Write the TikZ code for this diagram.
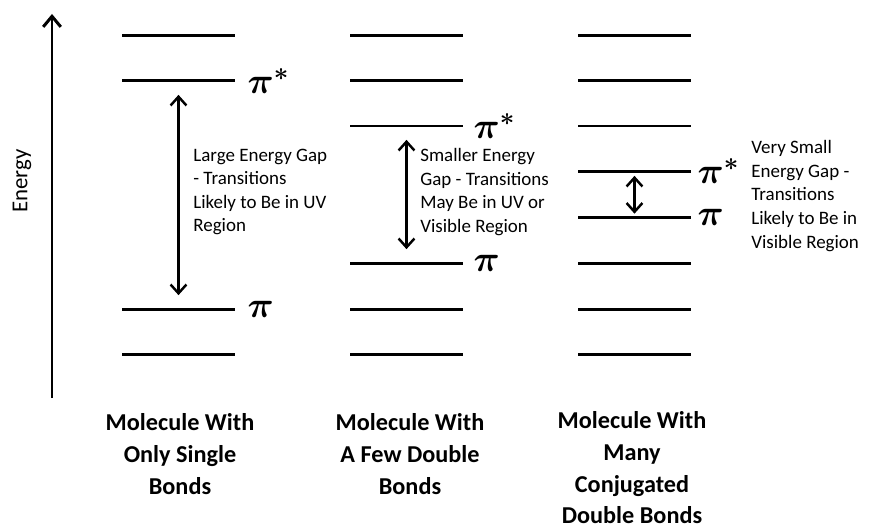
\documentclass[tikz,border=0pt]{standalone}
\usepackage{amsmath}
\usepackage{fontspec}
\setmainfont{Carlito}
\usepackage{tikz}
\usetikzlibrary{arrows.meta,positioning}

\begin{document}
\begin{tikzpicture}[x=0.02cm, y=-0.02cm,
  lvl/.style={rectangle, fill=black, inner sep=0pt,
              minimum width=2.26cm, minimum height=0.06cm},
  pilbl/.style={inner sep=0pt, font=\fontsize{20}{22}\selectfont},
  gaptxt/.style={inner sep=0pt, align=left, anchor=west,
                 font=\fontsize{10.8}{13.4}\selectfont},
  moltxt/.style={inner sep=0pt, align=center,
                 font=\fontsize{13.8}{18}\selectfont\bfseries},
  gaparr/.style={{Straight Barb[length=5pt,width=9pt]}-{Straight Barb[length=5pt,width=9pt]},
                 line width=1.4pt},
  enaxis/.style={-{Straight Barb[length=6pt,width=10pt]}, line width=1.7pt}
]
\useasboundingbox (0,0) rectangle (872,527);

% Energy axis
\coordinate (ebot) at (52,398);
\coordinate (etop) at (52,14);
\draw[enaxis] (ebot) -- (etop);
\node[rotate=90, font=\fontsize{13}{15}\selectfont] (elbl) at (22,181) {Energy};

% Only single bonds
\node[lvl] (sb1) at (178.5, 36) {};
\node[lvl] (sb2) at (178.5, 81) {};
\node[lvl] (sb3) at (178.5,309) {};
\node[lvl] (sb4) at (178.5,354) {};

% A few double bonds
\node[lvl] (fd1) at (406.5, 36) {};
\node[lvl] (fd2) at (406.5, 81) {};
\node[lvl] (fd3) at (406.5,126) {};
\node[lvl] (fd4) at (406.5,263) {};
\node[lvl] (fd5) at (406.5,309) {};
\node[lvl] (fd6) at (406.5,354) {};

% Many conjugated double bonds
\node[lvl] (cj1) at (634.5, 36) {};
\node[lvl] (cj2) at (634.5, 81) {};
\node[lvl] (cj3) at (634.5,126) {};
\node[lvl] (cj4) at (634.5,171) {};
\node[lvl] (cj5) at (634.5,217) {};
\node[lvl] (cj6) at (634.5,263) {};
\node[lvl] (cj7) at (634.5,309) {};
\node[lvl] (cj8) at (634.5,354) {};

% Pi labels
\node[pilbl, right=0.24cm of sb2] (sbpis) {$\boldsymbol{\pi^{*}}$};
\node[pilbl, right=0.24cm of sb3] (sbpi)  {$\boldsymbol{\pi}$};
\node[pilbl, right=0.2cm of fd3]  (fdpis) {$\boldsymbol{\pi^{*}}$};
\node[pilbl, right=0.2cm of fd4]  (fdpi)  {$\boldsymbol{\pi}$};
\node[pilbl, right=0.12cm of cj4] (cjpis) {$\boldsymbol{\pi^{*}}$};
\node[pilbl, right=0.12cm of cj5] (cjpi)  {$\boldsymbol{\pi}$};

% Gap arrows
\draw[gaparr, shorten <=0.24cm, shorten >=0.24cm] (sb2) -- (sb3);
\draw[gaparr, shorten <=0.24cm, shorten >=0.24cm] (fd3) -- (fd4);
\draw[gaparr, shorten <=0.06cm, shorten >=0.03cm] (cj4) -- (cj5);

% Gap descriptions
\node[gaptxt] (sbtxt) at (193,192) {Large Energy Gap\\- Transitions\\Likely to Be in UV\\Region};
\node[gaptxt] (fdtxt) at (420,192) {Smaller Energy\\Gap - Transitions\\May Be in UV or\\Visible Region};
\node[gaptxt] (cjtxt) at (751,196) {Very Small\\Energy Gap -\\Transitions\\Likely to Be in\\Visible Region};

% Molecule captions
\node[moltxt] (sbcap) at (180,454) {Molecule With\\Only Single\\Bonds};
\node[moltxt] (fdcap) at (410,454) {Molecule With\\A Few Double\\Bonds};
\node[moltxt] (cjcap) at (632,468) {Molecule With\\Many\\Conjugated\\Double Bonds};
\end{tikzpicture}
\end{document}
